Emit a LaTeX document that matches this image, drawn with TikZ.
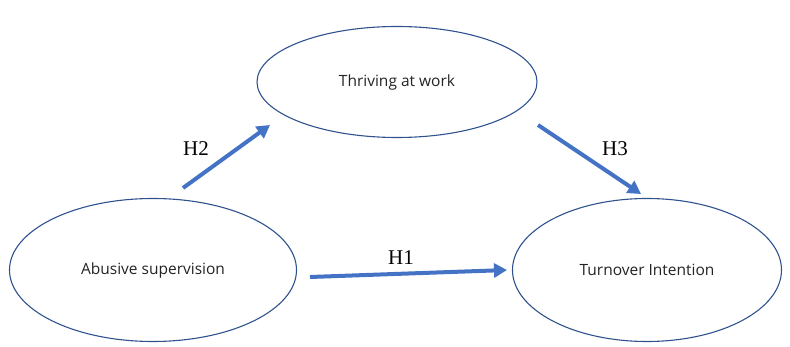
\documentclass[tikz,border=0pt]{standalone}
\usepackage{fontspec}
\setmainfont{Liberation Serif}
\setsansfont{Open Sans}
\usetikzlibrary{positioning, arrows.meta, shapes.geometric}
\definecolor{ovline}{RGB}{47, 82, 143}
\definecolor{hyparrow}{RGB}{68, 114, 196}
\definecolor{ovtext}{RGB}{35, 35, 35}
\tikzset{
    construct/.style={ellipse, draw=ovline, line width=1.1pt, text=ovtext,
        font=\sffamily\fontsize{15.5}{18}\selectfont},
    hyp/.style={-{Triangle[length=13pt, width=14pt]}, draw=hyparrow, line width=4pt},
    hyplabel/.style={font=\fontsize{21}{24}\selectfont, text=black}
}

\begin{document}
\begin{tikzpicture}[x=1pt, y=-1pt]
    \useasboundingbox (0,0) rectangle (790,347);
    % constructs
    \node[construct, minimum width=280pt, minimum height=111pt] (thrive) at (397,82) {Thriving at work};
    \node[construct, minimum width=287pt, minimum height=143pt] (abuse) at (153,270) {Abusive supervision};
    \node[construct, minimum width=269pt, minimum height=143pt] (turn) at (647,270) {Turnover Intention};

    % hypothesised paths
    \coordinate (h2s) at (183,188);
    \coordinate (h2e) at (270,125);
    \coordinate (h3s) at (538,125);
    \coordinate (h3e) at (641,194);
    \coordinate (h1s) at (310,277);
    \coordinate (h1e) at (507,270);
    \draw[hyp] (h2s) -- (h2e);
    \draw[hyp] (h3s) -- (h3e);
    \draw[hyp] (h1s) -- (h1e);

    % labels
    \node[hyplabel] (lh2) at (196,149) {H2};
    \node[hyplabel] (lh3) at (615,149) {H3};
    \node[hyplabel] (lh1) at (401,258) {H1};
\end{tikzpicture}
\end{document}
